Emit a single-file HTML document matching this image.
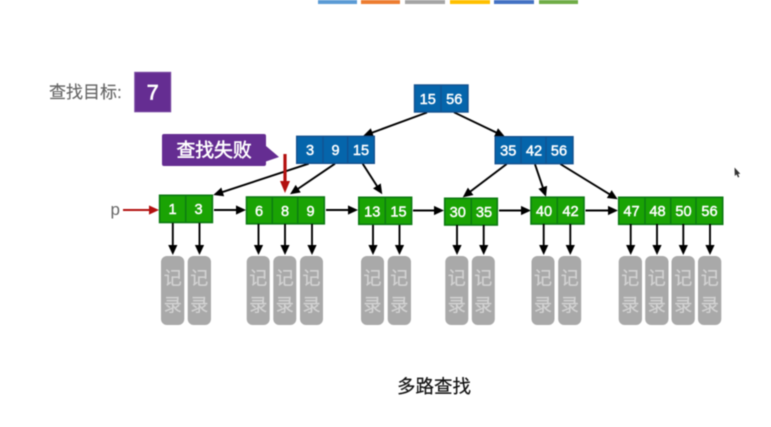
<!DOCTYPE html>
<html lang="zh">
<head>
<meta charset="utf-8">
<title>多路查找</title>
<style>
html,body{margin:0;padding:0;background:#fff;width:771px;height:427px;overflow:hidden}
svg{display:block;filter:blur(.45px)}
text{font-family:"Liberation Sans","Noto Sans CJK SC",sans-serif}
.b{fill:#0565ab;stroke:#12508f;stroke-width:1.4}
.g{fill:#1aa304;stroke:#0c7a12;stroke-width:1.6}
.db{stroke:#12508f;stroke-width:1.3}
.dg{stroke:#0c7a12;stroke-width:1.4}
.n{fill:#fff;font-size:14.6px;text-anchor:middle;stroke:#fff;stroke-width:.45}
.r{fill:#a9a9a9}
.rt{fill:#d2d2d2;font-size:18px;text-anchor:middle;stroke:#d2d2d2;stroke-width:.25}
.k{stroke:#000;stroke-width:1.9;fill:none;marker-end:url(#a)}
</style>
</head>
<body>
<svg width="771" height="427" viewBox="0 0 771 427" xmlns="http://www.w3.org/2000/svg">
<defs>
<marker id="a" markerUnits="userSpaceOnUse" markerWidth="12" markerHeight="10" refX="6" refY="4.6" orient="auto"><path d="M0 0L10 4.6L0 9.2z" fill="#000"/></marker>
<marker id="ar" markerUnits="userSpaceOnUse" markerWidth="12" markerHeight="10" refX="6" refY="4.6" orient="auto"><path d="M0 0L10 4.6L0 9.2z" fill="#b3100f"/></marker>
</defs>
<rect width="771" height="427" fill="#fff"/>

<!-- top bars -->
<rect x="318" y="0" width="39" height="4" fill="#5b9bd5"/>
<rect x="361" y="0" width="39" height="4" fill="#ed7d31"/>
<rect x="405" y="0" width="40" height="4" fill="#a5a5a5"/>
<rect x="450" y="0" width="40" height="4" fill="#ffc000"/>
<rect x="494" y="0" width="40" height="4" fill="#4472c4"/>
<rect x="539" y="0" width="39" height="4" fill="#70ad47"/>

<!-- target -->
<text x="49" y="98" font-size="17" fill="#666" stroke="#666" stroke-width=".15">查找目标:</text>
<rect x="134.7" y="72.3" width="36" height="39.5" fill="#652d92" stroke="#7b4aa3" stroke-width="1"/>
<text x="152.7" y="99.5" font-size="21.5" fill="#fff" text-anchor="middle" stroke="#fff" stroke-width=".7">7</text>

<!-- callout -->
<path d="M164 134H264a2 2 0 0 1 2 2V146L279 157L266 161.5V164a2 2 0 0 1-2 2H164a2 2 0 0 1-2-2V136a2 2 0 0 1 2-2z" fill="#652d92"/>
<text x="176.5" y="156.5" font-size="18.8" fill="#fff" stroke="#fff" stroke-width=".55">查找失败</text>

<!-- diagonal connectors -->
<line class="k" x1="427" y1="112.5" x2="366.8" y2="134.6"/>
<line class="k" x1="454" y1="112.3" x2="501.4" y2="135"/>
<line class="k" x1="308.7" y1="163.7" x2="217.1" y2="193.8"/>
<line class="k" x1="335" y1="163.7" x2="293.3" y2="192"/>
<line class="k" x1="362.7" y1="163.7" x2="380.1" y2="190.9"/>
<line class="k" x1="506.7" y1="164" x2="465.9" y2="194.9"/>
<line class="k" x1="535" y1="164.3" x2="544.7" y2="192.9"/>
<line class="k" x1="560.3" y1="164" x2="614.3" y2="197.2"/>

<!-- blue nodes -->
<rect class="b" x="414.5" y="85" width="53.5" height="27"/>
<line class="db" x1="441" y1="85" x2="441" y2="112"/>
<text class="n" x="427.7" y="104">15</text>
<text class="n" x="454.2" y="104">56</text>

<rect class="b" x="296.7" y="136.3" width="77.6" height="27"/>
<line class="db" x1="323" y1="136.3" x2="323" y2="163.3"/>
<line class="db" x1="347.7" y1="136.3" x2="347.7" y2="163.3"/>
<text class="n" x="310" y="155">3</text>
<text class="n" x="335.5" y="155">9</text>
<text class="n" x="361" y="155">15</text>

<rect class="b" x="495.2" y="136.7" width="77.8" height="27"/>
<line class="db" x1="521" y1="136.7" x2="521" y2="163.7"/>
<line class="db" x1="546" y1="136.7" x2="546" y2="163.7"/>
<text class="n" x="508.3" y="155.5">35</text>
<text class="n" x="534" y="155.5">42</text>
<text class="n" x="559" y="155.5">56</text>

<!-- horizontal links -->
<line class="k" x1="214" y1="210" x2="242" y2="210"/>
<line class="k" x1="326" y1="210" x2="354" y2="210"/>
<line class="k" x1="413" y1="210.5" x2="440" y2="210.5"/>
<line class="k" x1="499" y1="210.5" x2="527" y2="210.5"/>
<line class="k" x1="585.5" y1="210.5" x2="614" y2="210.5"/>

<!-- p pointer -->
<text x="110.5" y="215" font-size="17" fill="#666">p</text>
<line x1="123" y1="210" x2="155" y2="210" stroke="#b3100f" stroke-width="1.9" marker-end="url(#ar)"/>

<!-- green nodes -->
<rect class="g" x="159.6" y="195.3" width="52.8" height="27.2"/>
<line class="dg" x1="185.7" y1="195.3" x2="185.7" y2="222.5"/>
<text class="n" x="172.5" y="214">1</text>
<text class="n" x="198.5" y="214">3</text>

<rect class="g" x="246.5" y="197" width="77.8" height="26.8"/>
<line class="dg" x1="272.3" y1="197" x2="272.3" y2="223.8"/>
<line class="dg" x1="297.7" y1="197" x2="297.7" y2="223.8"/>
<text class="n" x="259" y="216">6</text>
<text class="n" x="285" y="216">8</text>
<text class="n" x="310.5" y="216">9</text>

<rect class="g" x="358.8" y="197.3" width="52.8" height="27"/>
<line class="dg" x1="385.3" y1="197.3" x2="385.3" y2="224.3"/>
<text class="n" x="372.3" y="216.5">13</text>
<text class="n" x="398.5" y="216.5">15</text>

<rect class="g" x="444.7" y="198.3" width="52.6" height="26.7"/>
<line class="dg" x1="471.3" y1="198.3" x2="471.3" y2="225"/>
<text class="n" x="457.8" y="217.2">30</text>
<text class="n" x="484" y="217.2">35</text>

<rect class="g" x="531" y="197.2" width="53" height="26.8"/>
<line class="dg" x1="557.3" y1="197.2" x2="557.3" y2="224"/>
<text class="n" x="544" y="216">40</text>
<text class="n" x="570.5" y="216">42</text>

<rect class="g" x="618.7" y="197.3" width="104" height="27"/>
<line class="dg" x1="645" y1="197.3" x2="645" y2="224.3"/>
<line class="dg" x1="670.7" y1="197.3" x2="670.7" y2="224.3"/>
<line class="dg" x1="696" y1="197.3" x2="696" y2="224.3"/>
<text class="n" x="631.5" y="216.2">47</text>
<text class="n" x="657.5" y="216.2">48</text>
<text class="n" x="683.5" y="216.2">50</text>
<text class="n" x="709.5" y="216.2">56</text>

<!-- red failure arrow -->
<line x1="285" y1="154" x2="285" y2="183" stroke="#b3100f" stroke-width="3.2"/>
<path d="M280 181H290L285 193z" fill="#b3100f"/>

<!-- vertical arrows to records -->
<line class="k" x1="172.8" y1="223" x2="172.8" y2="251"/>
<line class="k" x1="199.5" y1="223" x2="199.5" y2="251"/>
<line class="k" x1="258.5" y1="224" x2="258.5" y2="251"/>
<line class="k" x1="285" y1="224" x2="285" y2="251"/>
<line class="k" x1="312" y1="224" x2="312" y2="251"/>
<line class="k" x1="373" y1="225" x2="373" y2="251"/>
<line class="k" x1="399.5" y1="225" x2="399.5" y2="251"/>
<line class="k" x1="457" y1="225" x2="457" y2="251"/>
<line class="k" x1="483.7" y1="225" x2="483.7" y2="251"/>
<line class="k" x1="543.7" y1="224" x2="543.7" y2="251"/>
<line class="k" x1="570.3" y1="224" x2="570.3" y2="251"/>
<line class="k" x1="630.7" y1="224" x2="630.7" y2="251"/>
<line class="k" x1="657" y1="224" x2="657" y2="251"/>
<line class="k" x1="683.3" y1="224" x2="683.3" y2="251"/>
<line class="k" x1="710" y1="224" x2="710" y2="251"/>

<!-- records -->
<rect class="r" x="161" y="256" width="23.3" height="69" rx="6"/>
<rect class="r" x="187.7" y="256" width="23.3" height="69" rx="6"/>
<rect class="r" x="246.7" y="256" width="23" height="69" rx="6"/>
<rect class="r" x="273.3" y="256" width="23" height="69" rx="6"/>
<rect class="r" x="300" y="256" width="23" height="69" rx="6"/>
<rect class="r" x="361" y="256" width="23" height="69" rx="6"/>
<rect class="r" x="387.7" y="256" width="23.3" height="69" rx="6"/>
<rect class="r" x="445.3" y="256" width="23" height="69" rx="6"/>
<rect class="r" x="471.8" y="256" width="23" height="69" rx="6"/>
<rect class="r" x="531.5" y="256" width="23" height="69" rx="6"/>
<rect class="r" x="558.2" y="256" width="23" height="69" rx="6"/>
<rect class="r" x="618.7" y="256" width="23.3" height="69" rx="6"/>
<rect class="r" x="645.2" y="256" width="23.3" height="69" rx="6"/>
<rect class="r" x="671.5" y="256" width="23.3" height="69" rx="6"/>
<rect class="r" x="698" y="256" width="23.3" height="69" rx="6"/>

<text class="rt" x="172.7" y="284.5">记</text><text class="rt" x="172.7" y="311.5">录</text>
<text class="rt" x="199.3" y="284.5">记</text><text class="rt" x="199.3" y="311.5">录</text>
<text class="rt" x="258.2" y="284.5">记</text><text class="rt" x="258.2" y="311.5">录</text>
<text class="rt" x="284.8" y="284.5">记</text><text class="rt" x="284.8" y="311.5">录</text>
<text class="rt" x="311.5" y="284.5">记</text><text class="rt" x="311.5" y="311.5">录</text>
<text class="rt" x="372.5" y="284.5">记</text><text class="rt" x="372.5" y="311.5">录</text>
<text class="rt" x="399.3" y="284.5">记</text><text class="rt" x="399.3" y="311.5">录</text>
<text class="rt" x="456.8" y="284.5">记</text><text class="rt" x="456.8" y="311.5">录</text>
<text class="rt" x="483.3" y="284.5">记</text><text class="rt" x="483.3" y="311.5">录</text>
<text class="rt" x="543" y="284.5">记</text><text class="rt" x="543" y="311.5">录</text>
<text class="rt" x="569.7" y="284.5">记</text><text class="rt" x="569.7" y="311.5">录</text>
<text class="rt" x="630.3" y="284.5">记</text><text class="rt" x="630.3" y="311.5">录</text>
<text class="rt" x="656.8" y="284.5">记</text><text class="rt" x="656.8" y="311.5">录</text>
<text class="rt" x="683.2" y="284.5">记</text><text class="rt" x="683.2" y="311.5">录</text>
<text class="rt" x="709.7" y="284.5">记</text><text class="rt" x="709.7" y="311.5">录</text>

<!-- title -->
<text x="397" y="393" font-size="18.5" fill="#111" stroke="#111" stroke-width=".2">多路查找</text>

<!-- cursor -->
<path d="M734.5 167.5L734.8 176L736.6 174.4L738 177.5L739.3 176.9L738 174L740.3 173.8z" fill="#333"/>
</svg>
</body>
</html>
